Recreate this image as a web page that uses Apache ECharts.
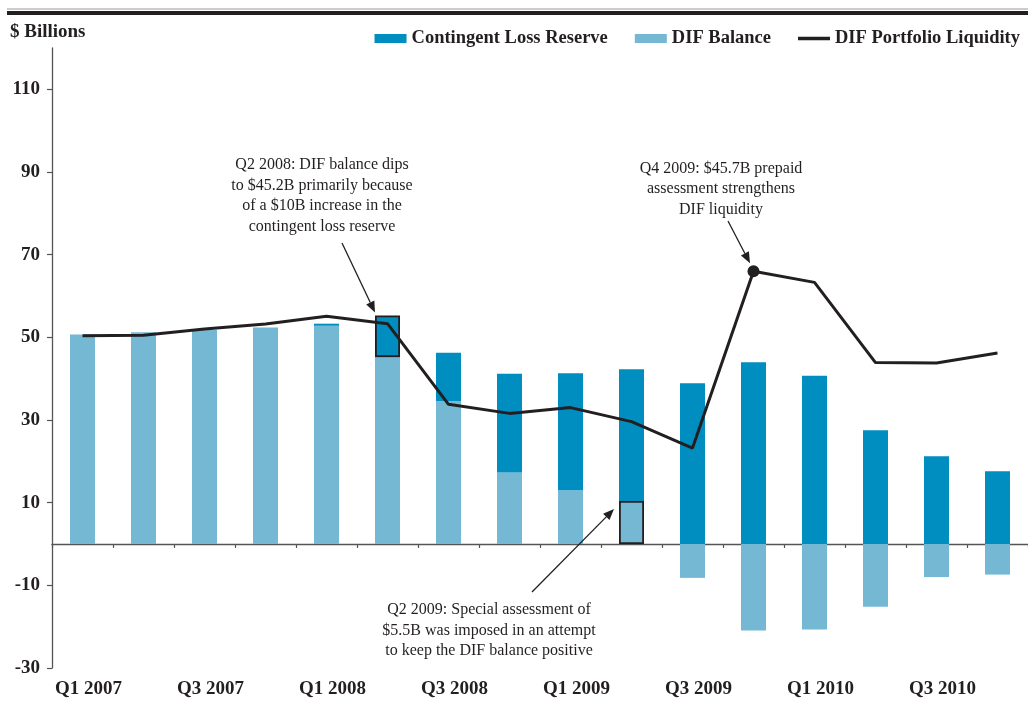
<!DOCTYPE html>
<html>
<head>
<meta charset="utf-8">
<script src="https://cdn.jsdelivr.net/npm/echarts@6/dist/echarts.min.js"></script>
<style>
  html, body { margin: 0; padding: 0; background: #ffffff; }
  #chart { width: 1028px; height: 712px; }
</style>
</head>
<body>
<div id="chart"></div>
<script>
// Quarterly Deposit Insurance Fund figures, $ billions
const quarters = ['Q1 2007', 'Q2 2007', 'Q3 2007', 'Q4 2007', 'Q1 2008', 'Q2 2008', 'Q3 2008', 'Q4 2008',
                  'Q1 2009', 'Q2 2009', 'Q3 2009', 'Q4 2009', 'Q1 2010', 'Q2 2010', 'Q3 2010', 'Q4 2010'];
const difBalance = [50.7, 51.2, 51.8, 52.4, 52.8, 45.2, 34.6, 17.3, 13.0, 10.4, -8.2, -20.9, -20.7, -15.2, -8.0, -7.4];
const contingentLossReserve = [0, 0, 0, 0, 0.5, 10.1, 11.7, 23.9, 28.3, 31.9, 38.9, 44.0, 40.7, 27.5, 21.2, 17.6];
const portfolioLiquidity = [50.4, 50.5, 52.0, 53.2, 55.1, 53.3, 33.8, 31.6, 33.0, 29.6, 23.2, 66.0, 63.3, 43.9, 43.8, 46.2];
const yTickValues = [-30, -10, 10, 30, 50, 70, 90, 110];

// Highlighted quarters referenced by the callouts
const reserveJumpIdx = 5;   // Q2 2008
const specialAssessIdx = 9; // Q2 2009
const prepaidIdx = 11;      // Q4 2009

const INK = '#231F20';
const SERIF = '"Liberation Serif", "DejaVu Serif", serif';
const BAR_W = 25;

const chart = echarts.init(document.getElementById('chart'), null, { renderer: 'canvas' });

const boxStyle = { borderColor: INK, borderWidth: 1.8 };

chart.setOption({
  animation: false,
  backgroundColor: '#ffffff',
  grid: { left: 52, right: 0, top: 48, bottom: 44, containLabel: false, outerBoundsMode: 'none' },
  legend: {
    right: 8,
    top: 29,
    padding: 0,
    itemWidth: 32,
    itemHeight: 9,
    itemGap: 27,
    selectedMode: false,
    textStyle: { fontFamily: SERIF, fontWeight: 'bold', fontSize: 18.5, color: INK },
    data: [
      { name: 'Contingent Loss Reserve', icon: 'rect' },
      { name: 'DIF Balance', icon: 'rect' },
      { name: 'DIF Portfolio Liquidity', icon: 'path://M0,0H32V3.6H0Z' }
    ]
  },
  xAxis: [
    {
      // zero baseline with quarter ticks
      type: 'category',
      data: quarters,
      boundaryGap: true,
      axisLine: { onZero: true, lineStyle: { color: '#555', width: 1.3 } },
      axisTick: { show: true, interval: 0, length: 4, lineStyle: { color: '#555', width: 1.2 } },
      axisLabel: { show: false },
      splitLine: { show: false }
    },
    {
      // quarter labels along the bottom edge
      type: 'category',
      data: quarters,
      position: 'bottom',
      boundaryGap: true,
      axisLine: { show: false, onZero: false },
      axisTick: { show: false },
      axisLabel: {
        interval: 1,
        margin: 12,
        padding: [0, 0, 0, 12],
        fontFamily: SERIF,
        fontWeight: 'bold',
        fontSize: 19,
        color: INK
      },
      splitLine: { show: false }
    }
  ],
  yAxis: {
    type: 'value',
    min: -30,
    max: 120,
    axisLine: { show: true, onZero: false, lineStyle: { color: '#555', width: 1.3 } },
    axisTick: { show: true, length: 5, customValues: yTickValues, lineStyle: { color: '#555', width: 1.2 } },
    axisLabel: {
      customValues: yTickValues,
      margin: 12,
      fontFamily: SERIF,
      fontWeight: 'bold',
      fontSize: 19,
      color: INK
    },
    splitLine: { show: false }
  },
  series: [
    {
      name: 'DIF Balance',
      type: 'bar',
      stack: 'fund',
      barWidth: BAR_W,
      itemStyle: { color: '#75B8D4' },
      data: difBalance.map((v, i) => i === specialAssessIdx ? { value: v, itemStyle: boxStyle } : v),
      z: 2
    },
    {
      name: 'Contingent Loss Reserve',
      type: 'bar',
      stack: 'fund',
      barWidth: BAR_W,
      itemStyle: { color: '#008DBF' },
      data: contingentLossReserve.map((v, i) => i === reserveJumpIdx ? { value: v, itemStyle: boxStyle } : v),
      z: 2
    },
    {
      name: 'DIF Portfolio Liquidity',
      type: 'line',
      symbol: 'none',
      showSymbol: true,
      lineStyle: { color: INK, width: 3 },
      itemStyle: { color: INK },
      data: portfolioLiquidity.map((v, i) => i === prepaidIdx ? { value: v, symbol: 'circle', symbolSize: 12 } : v),
      z: 3
    }
  ]
});

// Callout arrows anchored to the marks they point at
const toPx = (i, v) => chart.convertToPixel({ xAxisIndex: 0, yAxisIndex: 0 }, [quarters[i], v]);

function arrow(x1, y1, x2, y2) {
  const ang = Math.atan2(y2 - y1, x2 - x1);
  const len = 11, half = 4.5;
  const bx = x2 - len * Math.cos(ang), by = y2 - len * Math.sin(ang);
  const nx = -Math.sin(ang) * half, ny = Math.cos(ang) * half;
  return [
    { type: 'line', shape: { x1: x1, y1: y1, x2: bx, y2: by }, style: { stroke: INK, lineWidth: 1.3 }, z: 10 },
    { type: 'polygon', shape: { points: [[x2, y2], [bx + nx, by + ny], [bx - nx, by - ny]] }, style: { fill: INK }, z: 10 }
  ];
}

const jumpTop = toPx(reserveJumpIdx, difBalance[reserveJumpIdx] + contingentLossReserve[reserveJumpIdx]);
const assessTop = toPx(specialAssessIdx, difBalance[specialAssessIdx]);
const prepaidPt = toPx(prepaidIdx, portfolioLiquidity[prepaidIdx]);

const noteStyle = { fontFamily: SERIF, fontSize: 16, fill: INK, align: 'center', verticalAlign: 'top', lineHeight: 20.5 };

chart.setOption({
  graphic: [
    { type: 'rect', shape: { x: 7, y: 8.5, width: 1021, height: 1 }, style: { fill: '#9a9a9a' } },
    { type: 'rect', shape: { x: 7, y: 11, width: 1021, height: 4 }, style: { fill: INK } },
    {
      type: 'text', x: 10, y: 32.5,
      style: { text: '$ Billions', fontFamily: SERIF, fontWeight: 'bold', fontSize: 19, fill: INK, verticalAlign: 'middle' }
    },
    {
      type: 'text', x: 322, y: 155,
      style: Object.assign({ text: 'Q2 2008: DIF balance dips\nto $45.2B primarily because\nof a $10B increase in the\ncontingent loss reserve' }, noteStyle)
    },
    {
      type: 'text', x: 721, y: 158.5,
      style: Object.assign({ text: 'Q4 2009: $45.7B prepaid\nassessment strengthens\nDIF liquidity' }, noteStyle)
    },
    {
      type: 'text', x: 489, y: 600,
      style: Object.assign({ text: 'Q2 2009: Special assessment of\n$5.5B was imposed in an attempt\nto keep the DIF balance positive' }, noteStyle)
    },
    ...arrow(342, 243, jumpTop[0] - BAR_W / 2, jumpTop[1] - 3),
    ...arrow(728, 221, prepaidPt[0] - 3.5, prepaidPt[1] - 8),
    ...arrow(532, 592, assessTop[0] - BAR_W / 2 - 5, assessTop[1] + 8)
  ]
});
</script>
</body>
</html>
